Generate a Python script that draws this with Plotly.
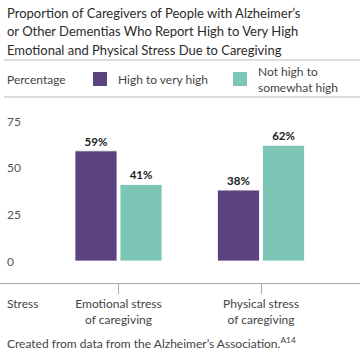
import plotly.graph_objects as go

categories = ["Emotional stress<br>of caregiving", "Physical stress<br>of caregiving"]
series_names = ["High to very high", "Not high to<br>somewhat high"]
high_vals = [59, 38]
not_high_vals = [41, 62]
y_ticks = [0, 25, 50, 75]
title_lines = [
    "Proportion of Caregivers of People with Alzheimer’s",
    "or Other Dementias Who Report High to Very High",
    "Emotional and Physical Stress Due to Caregiving",
]
source = "Created from data from the Alzheimer’s Association.<sup>A14</sup>"

PURPLE = "#5B4380"
TEAL = "#7DC6B6"
FONT = "Lato"
W, H = 360, 360
PT, PB = 100, 283  # plot area top/bottom in px

def py(px):
    return (PB - px) / (PB - PT)

def pxx(px):
    return px / W

xpos = [0, 1]
fig = go.Figure()
for name, vals, col in [(series_names[0], high_vals, PURPLE), (series_names[1], not_high_vals, TEAL)]:
    fig.add_trace(go.Bar(
        x=xpos, y=vals, name=name, marker=dict(color=col, line=dict(color="white", width=0.8)),
        text=[f"{v}%" for v in vals], textposition="outside",
        textfont=dict(family=FONT, size=11.5, color="#222", weight="bold"),
        cliponaxis=False, showlegend=False, hoverinfo="skip",
    ))

ann = []
for i, (t, yb) in enumerate(zip(title_lines, [13, 31.5, 50])):
    ann.append(dict(text=t, x=pxx(5), y=py(yb), xref="paper", yref="paper", xanchor="left",
                    yanchor="middle", showarrow=False, font=dict(family=FONT, size=13, color="#2b2b2b")))
# legend
ann.append(dict(text="Percentage", x=pxx(5), y=py(79), xref="paper", yref="paper", xanchor="left",
                yanchor="middle", showarrow=False, font=dict(family=FONT, size=12, color="#444")))
ann.append(dict(text=series_names[0], x=pxx(116), y=py(79), xref="paper", yref="paper", xanchor="left",
                yanchor="middle", showarrow=False, font=dict(family=FONT, size=12, color="#444")))
ann.append(dict(text=series_names[1], x=pxx(256), y=py(79), xref="paper", yref="paper", xanchor="left",
                yanchor="middle", align="left", showarrow=False, font=dict(family=FONT, size=12, color="#444")))
# y tick labels
for v in y_ticks:
    ann.append(dict(text=str(v), x=pxx(5), y=v, xref="paper", yref="y", xanchor="left",
                    yanchor="middle", showarrow=False, font=dict(family=FONT, size=12, color="#555")))
ann.append(dict(text="Stress", x=pxx(5), y=py(303), xref="paper", yref="paper", xanchor="left",
                yanchor="middle", showarrow=False, font=dict(family=FONT, size=12, color="#444")))
ann.append(dict(text=source, x=pxx(5), y=py(343), xref="paper", yref="paper", xanchor="left",
                yanchor="middle", showarrow=False, font=dict(family=FONT, size=12, color="#444")))

shapes = [
    dict(type="line", xref="paper", yref="paper", x0=pxx(4), x1=1, y0=py(60), y1=py(60),
         line=dict(color="#BBBBBB", width=1)),
    dict(type="line", xref="paper", yref="paper", x0=pxx(4), x1=1, y0=py(97), y1=py(97),
         line=dict(color="#BBBBBB", width=1)),
    dict(type="rect", xref="paper", yref="paper", x0=pxx(93), x1=pxx(107), y0=py(86), y1=py(72),
         fillcolor=PURPLE, line=dict(width=0)),
    dict(type="rect", xref="paper", yref="paper", x0=pxx(233), x1=pxx(247), y0=py(86), y1=py(72),
         fillcolor=TEAL, line=dict(width=0)),
]

scale = 142.5
x0 = 118.5
fig.update_layout(
    width=W, height=H, margin=dict(l=0, r=0, t=PT, b=H - PB),
    paper_bgcolor="white", plot_bgcolor="white",
    barmode="group", bargap=0.368, bargroupgap=0.067,
    annotations=ann, shapes=shapes,
    xaxis=dict(range=[-x0 / scale, (W - x0) / scale], tickvals=xpos, ticktext=categories,
               showline=True, linecolor="#AAAAAA", linewidth=1, ticks="outside", ticklen=10,
               tickcolor="#AAAAAA", showgrid=False, zeroline=False, fixedrange=True,
               tickfont=dict(family=FONT, size=12, color="#444")),
    yaxis=dict(range=[-22 / 1.8667, 75 + 21 / 1.8667], showticklabels=False, showgrid=False,
               zeroline=False, showline=False, fixedrange=True),
    font=dict(family=FONT),
    hovermode=False,
)
fig.write_html("out.html", config={"displayModeBar": False, "staticPlot": True},
               post_script="document.body.style.margin='0px';")
